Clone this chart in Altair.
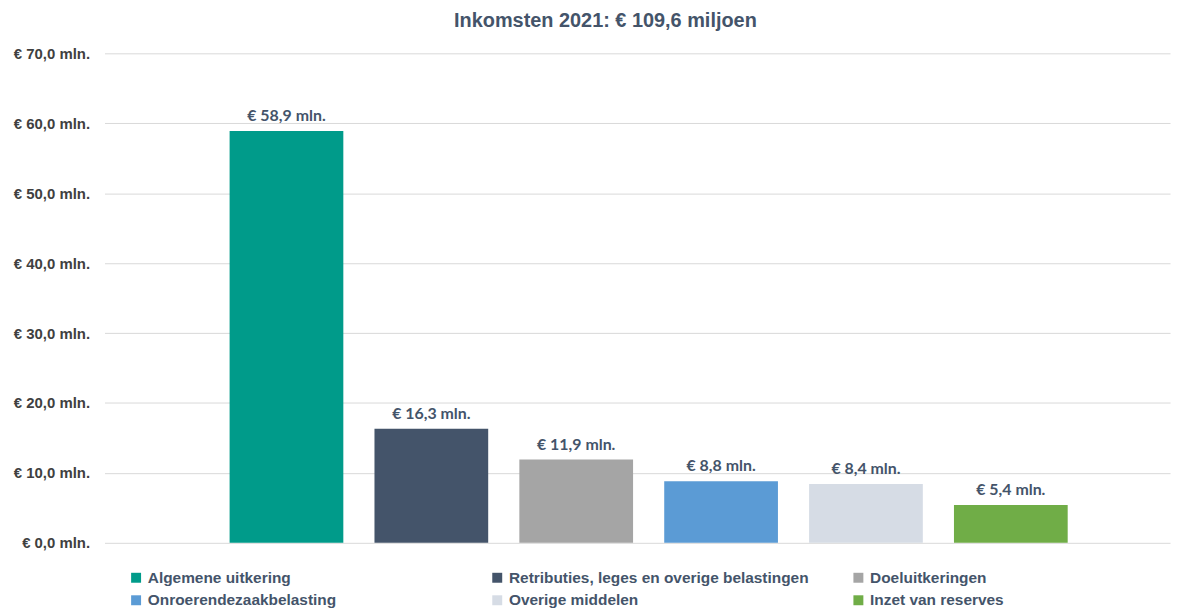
import altair as alt
import pandas as pd

categories = [
    "Algemene uitkering",
    "Retributies, leges en overige belastingen",
    "Doeluitkeringen",
    "Onroerendezaakbelasting",
    "Overige middelen",
    "Inzet van reserves",
]
values = [58.9, 16.3, 11.9, 8.8, 8.4, 5.4]
labels = ["€ 58,9 mln.", "€ 16,3 mln.", "€ 11,9 mln.", "€ 8,8 mln.", "€ 8,4 mln.", "€ 5,4 mln."]
colors = ["#009B8A", "#44546A", "#A5A5A5", "#5B9BD5", "#D6DCE5", "#70AD47"]
y_ticks = [0, 10, 20, 30, 40, 50, 60, 70]

df = pd.DataFrame({"cat": categories, "val": values, "lab": labels})

x = alt.X("cat:N", sort=categories, axis=None,
          scale=alt.Scale(paddingInner=0.215, paddingOuter=0.785, align=0.55))
y = alt.Y("val:Q", title=None,
          scale=alt.Scale(domain=[0, 70], nice=False),
          axis=alt.Axis(values=y_ticks, domain=False, ticks=False, labelPadding=15,
                        labelExpr="'€ ' + replace(format(datum.value, '.1f'), '.', ',') + ' mln.'",
                        labelFont="Liberation Sans", labelFontSize=15, labelFontWeight="bold",
                        labelColor="#404040", gridColor="#D9D9D9", gridWidth=1))

bars = alt.Chart(df).mark_bar().encode(
    x=x, y=y,
    color=alt.Color("cat:N", sort=categories,
                    scale=alt.Scale(domain=categories, range=colors),
                    legend=alt.Legend(title=None, orient="none", legendX=24, legendY=519,
                                      direction="horizontal", columns=3, gridAlign="all",
                                      columnPadding=42, rowPadding=6,
                                      symbolType="square", symbolSize=100, symbolStrokeWidth=0,
                                      labelOffset=4, labelLimit=500,
                                      labelFont="Liberation Sans", labelFontSize=15.5,
                                      labelFontWeight="bold", labelColor="#44546A")),
)

text = alt.Chart(df).mark_text(baseline="bottom", dy=-7, font="Lato", fontSize=16,
                               fontWeight="bold", color="#44546A").encode(
    x=alt.X("cat:N", sort=categories), y="val:Q", text="lab:N")

chart = (bars + text).properties(
    width=1071, height=492,
    autosize="none",
    padding={"left": 97, "top": 44, "right": 8, "bottom": 72},
    title=alt.TitleParams("Inkomsten 2021: € 109,6 miljoen", font="Liberation Sans",
                          fontSize=20, fontWeight="bold", color="#44546A",
                          anchor="middle", dx=-32, offset=15),
).configure_view(stroke=None)

chart.save("out.html", embed_options={"renderer": "svg", "actions": False})
